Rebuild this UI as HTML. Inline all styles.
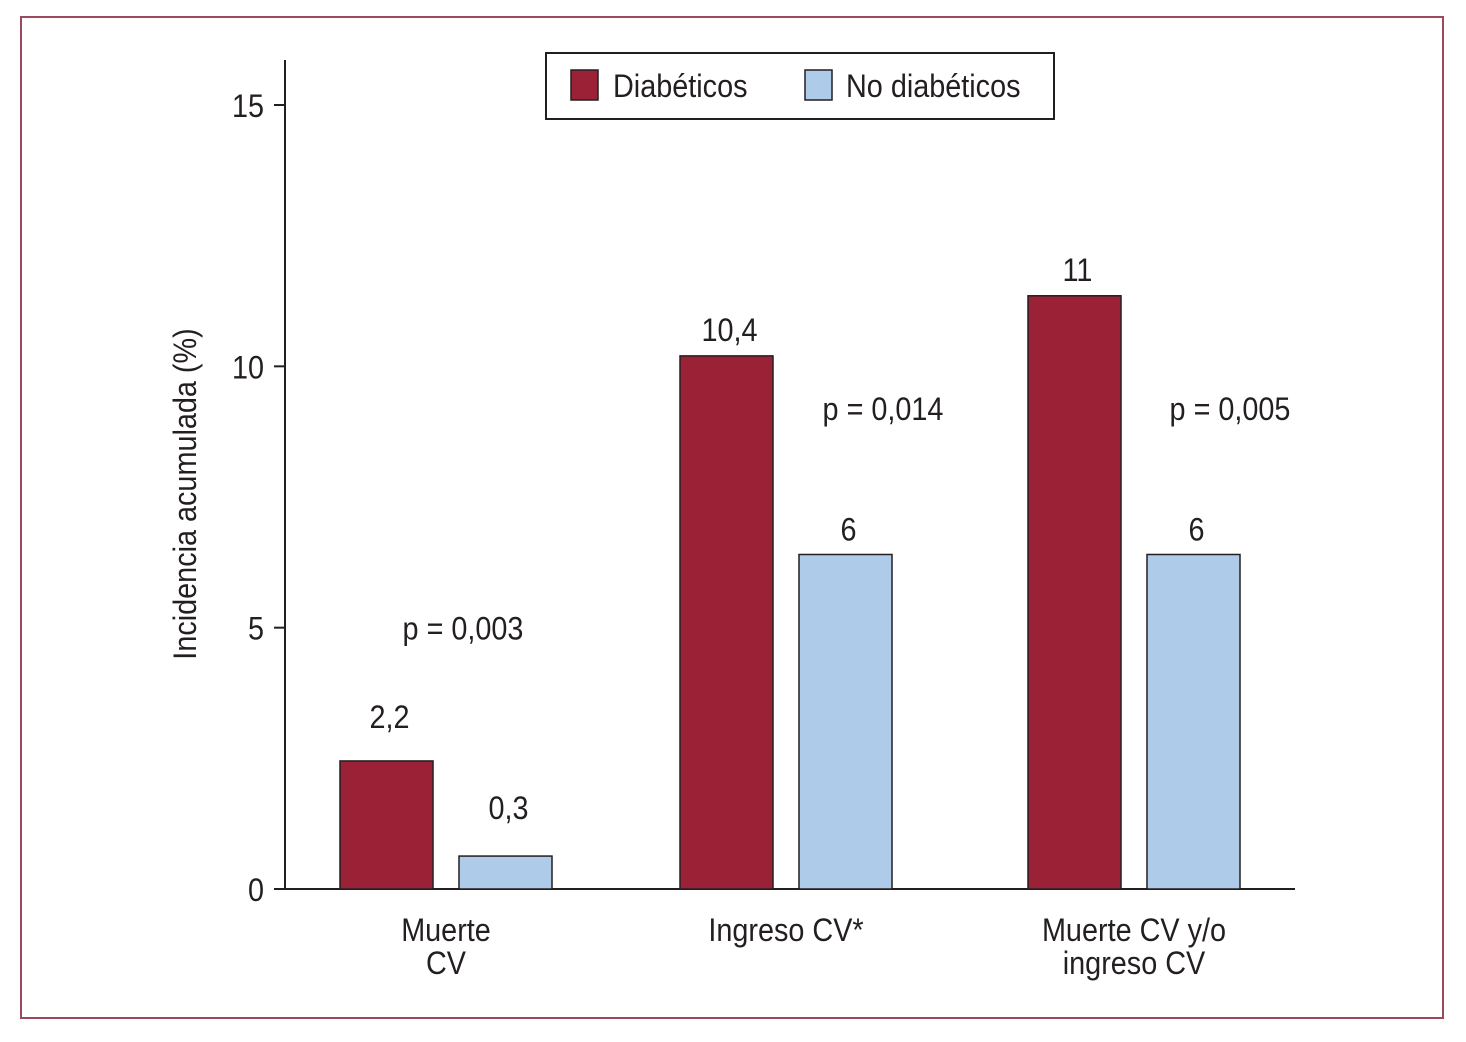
<!DOCTYPE html>
<html><head><meta charset="utf-8"><style>
body{margin:0;background:#fff;}
svg text{font-family:"Liberation Sans",sans-serif;fill:#231f20;}
</style></head><body>
<svg id="svg" width="1466" height="1037" viewBox="0 0 1466 1037" xmlns="http://www.w3.org/2000/svg">
<rect x="21" y="17" width="1422" height="1001" fill="none" stroke="#9a4a5c" stroke-width="2"/>
<g id="axes"></g>
<g id="bars"></g>
<g id="labels"></g>
<g>
<rect x="546" y="53" width="508" height="66" fill="#fff" stroke="#231f20" stroke-width="2"/>
<rect x="571" y="70" width="27" height="30" fill="#9b2236" stroke="#231f20" stroke-width="1.5"/>
<text x="613" y="97" font-size="32">Diabéticos</text>
<rect x="805" y="70" width="27" height="30" fill="#aecce9" stroke="#231f20" stroke-width="1.5"/>
<text x="846" y="97" font-size="32">No diabéticos</text>
</g>
<text transform="translate(196,494) rotate(-90)" text-anchor="middle" font-size="32">Incidencia acumulada (%)</text>
</svg>
<script>
const categories=[["Muerte","CV"],["Ingreso CV*"],["Muerte CV y/o","ingreso CV"]];
const diabeticos=[2.45,10.2,11.35];
const noDiabeticos=[0.63,6.4,6.4];
const diabeticosLabels=["2,2","10,4","11"];
const noDiabeticosLabels=["0,3","6","6"];
const pValues=["p = 0,003","p = 0,014","p = 0,005"];
const pLevels=[5,9.2,9.2];
const yTicks=[0,5,10,15];

const NS="http://www.w3.org/2000/svg";
const y0=889,y15=105;
function y(v){return y0-(y0-y15)*v/15;}
const groupX=[340,680,1028];
const bw=93,gap=26;
const pX=[463,883,1230];
function mk(tag,attrs,parent){const e=document.createElementNS(NS,tag);for(const k in attrs)e.setAttribute(k,attrs[k]);parent.appendChild(e);return e;}
const axes=document.getElementById('axes'),bars=document.getElementById('bars'),labels=document.getElementById('labels');
let l=mk('line',{x1:285,y1:60,x2:285,y2:890,stroke:'#231f20','stroke-width':2},axes);


l=mk('line',{x1:284,y1:889,x2:1295,y2:889,stroke:'#231f20','stroke-width':2},axes);


yTicks.forEach(t=>{
 const tk=mk('line',{x1:274,y1:y(t),x2:285,y2:y(t),stroke:'#231f20','stroke-width':2},axes);
 
 
 const tx=mk('text',{x:264,y:y(t)+12,'text-anchor':'end','font-size':32},axes);
 tx.textContent=t;
 
 
});
categories.forEach((c,i)=>{
 const x1=groupX[i],x2=x1+bw+gap;
 const b1=mk('rect',{x:x1,y:y(diabeticos[i]),width:bw,height:y0-y(diabeticos[i]),fill:'#9b2236',stroke:'#231f20','stroke-width':1.5},bars);
 
 
 const b2=mk('rect',{x:x2,y:y(noDiabeticos[i]),width:bw,height:y0-y(noDiabeticos[i]),fill:'#aecce9',stroke:'#231f20','stroke-width':1.5},bars);
 
 
 const off1=diabeticos[i]<5?33:15, off2=noDiabeticos[i]<5?37:14;
 let t=mk('text',{x:x1+bw/2+3,y:y(diabeticos[i])-off1,'text-anchor':'middle','font-size':32},labels);
 t.textContent=diabeticosLabels[i];
 
 
 t=mk('text',{x:x2+bw/2+3,y:y(noDiabeticos[i])-off2,'text-anchor':'middle','font-size':32},labels);
 t.textContent=noDiabeticosLabels[i];
 
 
 t=mk('text',{x:pX[i],y:y(pLevels[i])+12,'text-anchor':'middle','font-size':32},labels);
 t.textContent=pValues[i];
 
 
 const cx=(x1+x2+bw)/2;
 c.forEach((line,j)=>{
  const ct=mk('text',{x:cx,y:941+j*33,'text-anchor':'middle','font-size':32},labels);
  ct.textContent=line;
  
  
 });
});
document.querySelectorAll('svg text').forEach(t=>{
 const w=t.getComputedTextLength();
 t.setAttribute('textLength',(w*0.9).toFixed(1));
 t.setAttribute('lengthAdjust','spacingAndGlyphs');
});
</script>
</body></html>
